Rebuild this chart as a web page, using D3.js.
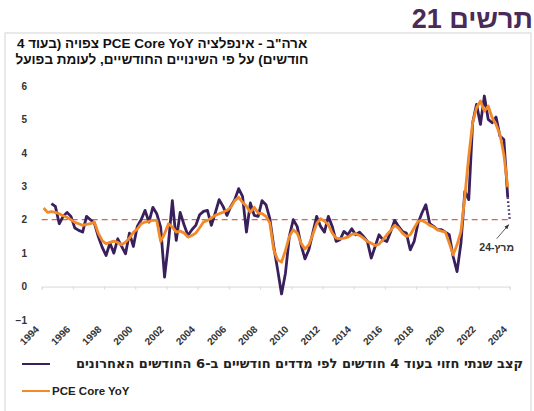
<!DOCTYPE html>
<html>
<head>
<meta charset="utf-8">
<script src="https://cdn.jsdelivr.net/npm/d3@7"></script>
<style>
  body { margin: 0; background: #fff; }
  svg { display: block; font-family: "Liberation Sans", Arial, sans-serif; }
  .ylab text { font-size: 10px; font-weight: bold; fill: #333; font-family: "Liberation Sans", Arial, sans-serif; }
  .xlab { font-size: 10px; font-weight: bold; fill: #333; }
</style>
</head>
<body>
<div id="chart"></div>
<script>
// Years of the chart, quarterly values (4 per year, mid-quarter)
var years = [1994, 1995, 1996, 1997, 1998, 1999, 2000, 2001, 2002, 2003,
  2004, 2005, 2006, 2007, 2008, 2009, 2010, 2011, 2012, 2013,
  2014, 2015, 2016, 2017, 2018, 2019, 2020, 2021, 2022, 2023];

// PCE Core YoY (actual)
var pceCore = [
  2.35, 2.22, 2.24, 2.22,   // 1994
  2.18, 2.12, 2.07, 2.00,   // 1995
  1.92, 1.88, 1.83, 1.86,   // 1996
  1.88, 1.93, 1.60, 1.38,   // 1997
  1.28, 1.32, 1.36, 1.32,   // 1998
  1.25, 1.33, 1.45, 1.62,   // 1999
  1.72, 1.88, 1.93, 1.95,   // 2000
  1.98, 1.98, 1.35, 1.58,   // 2001
  1.88, 1.78, 1.63, 1.66,   // 2002
  1.60, 1.48, 1.53, 1.60,   // 2003
  1.76, 1.93, 1.98, 2.05,   // 2004
  2.13, 2.18, 2.22, 2.28,   // 2005
  2.37, 2.57, 2.67, 2.52,   // 2006
  2.40, 2.22, 2.37, 2.20,   // 2007
  2.18, 2.10, 1.90, 1.10,   // 2008
  0.80, 0.73, 1.08, 1.50,   // 2009
  1.70, 1.60, 1.30, 1.12,   // 2010
  1.25, 1.55, 1.88, 2.03,   // 2011
  1.96, 1.85, 1.60, 1.45,   // 2012
  1.43, 1.45, 1.48, 1.56,   // 2013
  1.58, 1.53, 1.45, 1.35,   // 2014
  1.30, 1.23, 1.27, 1.40,   // 2015
  1.55, 1.68, 1.83, 1.75,   // 2016
  1.60, 1.50, 1.55, 1.75,   // 2017
  1.95, 1.98, 1.92, 1.83,   // 2018
  1.78, 1.70, 1.66, 1.63,   // 2019
  1.30, 0.95, 1.25, 1.65,   // 2020
  2.70, 3.90, 4.90, 5.35,   // 2021
  5.55, 5.25, 5.40, 5.05,   // 2022
  4.85, 4.55, 3.95, 2.97    // 2023
];

// annualised 4-months-ahead forecast from the last 6 monthly readings
var forecast = [
  null, null, 2.48, 2.40,   // 1994
  1.88, 2.10, 2.22, 2.10,   // 1995
  1.75, 1.68, 1.63, 2.10,   // 1996
  2.00, 1.90, 1.50, 1.18,   // 1997
  0.93, 1.30, 1.00, 1.43,   // 1998
  1.20, 0.98, 1.60, 1.20,   // 1999
  1.80, 2.00, 2.28, 1.93,   // 2000
  2.37, 2.18, 1.78, 0.28,   // 2001
  1.30, 2.57, 1.38, 2.22,   // 2002
  1.85, 1.53, 1.70, 1.83,   // 2003
  2.15, 2.25, 2.28, 1.83,   // 2004
  2.20, 2.60, 2.40, 2.13,   // 2005
  2.40, 2.60, 2.93, 2.70,   // 2006
  1.63, 2.50, 2.13, 2.10,   // 2007
  2.57, 2.45, 2.03, 1.20,   // 2008
  0.50, -0.22, 0.40, 1.50,  // 2009
  2.00, 1.80, 1.25, 0.83,   // 2010
  1.10, 1.60, 2.10, 1.80,   // 2011
  1.63, 2.10, 1.80, 1.35,   // 2012
  1.40, 1.65, 1.55, 1.73,   // 2013
  1.55, 1.63, 1.50, 1.35,   // 2014
  0.85, 1.20, 1.55, 1.40,   // 2015
  1.35, 1.65, 1.98, 1.80,   // 2016
  1.65, 1.60, 1.10, 1.35,   // 2017
  1.90, 2.20, 2.45, 1.88,   // 2018
  1.80, 1.70, 1.70, 1.63,   // 2019
  1.55, 0.90, 0.45, 1.30,   // 2020
  2.85, 2.60, 4.90, 5.45,   // 2021
  4.85, 5.70, 5.00, 4.90,   // 2022
  5.07, 4.50, 4.40, 2.67    // 2023
];

// projected point for March 2024 (dotted)
var projDate = 2024.0;
var projValue = 2.0;

var target = 2;
var tickYears = [1994, 1996, 1998, 2000, 2002, 2004, 2006, 2008, 2010, 2012, 2014, 2016, 2018, 2020, 2022, 2024];
var yTicks = [-1, 0, 1, 2, 3, 4, 5, 6];

var legendLabels = ["קצב שנתי חזוי בעוד 4 חודשים לפי מדדים חודשיים ב-6 החודשים האחרונים", "PCE Core YoY"];

var width = 534, height = 411;
var purple = "#3a1f5d", orange = "#f28a2a";

// date of quarterly entry i
function dateOf(i) { return years[Math.floor(i / 4)] + (i % 4) / 4 + 0.125; }

var svg = d3.select("#chart").append("svg")
  .attr("width", width)
  .attr("height", height);

// frame
svg.append("rect")
  .attr("x", 5).attr("y", 33)
  .attr("width", 526).attr("height", 390)
  .attr("fill", "none")
  .attr("stroke", "#d4d4d4");

// heading
svg.append("text")
  .attr("x", 533).attr("y", 28)
  .attr("direction", "rtl")
  .attr("text-anchor", "start")
  .style("font-size", "27px")
  .style("font-weight", "bold")
  .style("fill", "#4a2a57")
  .text("תרשים 21");

var titleLines = ["ארה\"ב - אינפלציה PCE Core YoY צפויה (בעוד 4", "חודשים) על פי השינויים החודשיים, לעומת בפועל"];
svg.append("g").selectAll("text")
  .data(titleLines)
  .enter().append("text")
  .attr("x", 162)
  .attr("y", function (d, i) { return 48 + i * 16; })
  .attr("direction", "rtl")
  .attr("text-anchor", "middle")
  .style("font-size", "13.5px")
  .style("font-weight", "bold")
  .style("fill", "#111")
  .text(function (d) { return d; });

// scales
var x = d3.scaleLinear().domain([1994, 2024]).range([41.7, 509.7]);
var y = d3.scaleLinear().domain([-1, 6]).range([320, 86]);

// y axis labels
svg.append("g")
  .attr("class", "ylab")
  .attr("transform", "translate(29,0)")
  .call(d3.axisLeft(y).tickValues(yTicks).tickSize(0).tickPadding(2).tickFormat(d3.format("d")))
  .call(function (g) { g.select(".domain").remove(); });

// zero line with ticks
svg.append("g")
  .attr("transform", "translate(0," + y(0) + ")")
  .call(d3.axisBottom(x).tickValues(tickYears).tickSize(3).tickFormat(""))
  .call(function (g) {
    g.select(".domain").attr("stroke", "#d9d9d9");
    g.selectAll(".tick line").attr("stroke", "#d9d9d9");
  });

// x labels, low position, rotated
svg.append("g").selectAll("text")
  .data(tickYears)
  .enter().append("text")
  .attr("class", "xlab")
  .attr("text-anchor", "end")
  .attr("transform", function (d) { return "translate(" + (x(d) - 2) + ",330) rotate(-45)"; })
  .text(function (d) { return d; });

// 2% target
svg.append("line")
  .attr("x1", x(1994)).attr("x2", x(2024))
  .attr("y1", y(target)).attr("y2", y(target))
  .attr("stroke", "#e4604f")
  .attr("stroke-width", 1.2)
  .attr("stroke-dasharray", "6,4");

var line = d3.line()
  .defined(function (d) { return d.v != null; })
  .x(function (d) { return x(d.t); })
  .y(function (d) { return y(d.v); });

var fData = forecast.map(function (v, i) { return { t: dateOf(i), v: v }; });
var aData = pceCore.map(function (v, i) { return { t: dateOf(i), v: v }; });

svg.append("path")
  .datum(fData)
  .attr("d", line)
  .attr("fill", "none")
  .attr("stroke", purple)
  .attr("stroke-width", 2.8)
  .attr("stroke-linejoin", "round");

svg.append("path")
  .datum(aData)
  .attr("d", line)
  .attr("fill", "none")
  .attr("stroke", orange)
  .attr("stroke-width", 2.8)
  .attr("stroke-linejoin", "round");

// dotted projection to March 2024
var last = fData[fData.length - 1];
svg.append("path")
  .datum([last, { t: projDate, v: projValue }])
  .attr("d", line)
  .attr("fill", "none")
  .attr("stroke", purple)
  .attr("stroke-width", 2.4)
  .attr("stroke-dasharray", "1.5,2.5");

// annotation
svg.append("defs").append("marker")
  .attr("id", "arr")
  .attr("viewBox", "0 0 10 10")
  .attr("refX", 9).attr("refY", 5)
  .attr("markerWidth", 6).attr("markerHeight", 6)
  .attr("orient", "auto")
  .append("path")
  .attr("d", "M0,1 L10,5 L0,9 z")
  .attr("fill", "#333");

svg.append("line")
  .attr("x1", x(projDate) - 13).attr("y1", y(projValue) + 19)
  .attr("x2", x(projDate) - 1).attr("y2", y(projValue) + 5)
  .attr("stroke", "#333")
  .attr("stroke-width", 0.8)
  .attr("marker-end", "url(#arr)");

svg.append("text")
  .attr("x", x(projDate) - 13)
  .attr("y", y(projValue) + 31)
  .attr("direction", "rtl")
  .attr("text-anchor", "middle")
  .style("font-size", "10.5px")
  .style("font-weight", "bold")
  .style("fill", "#333")
  .text("מרץ-24");

// legend
var legend = svg.append("g").selectAll("g")
  .data(legendLabels)
  .enter().append("g")
  .attr("transform", function (d, i) { return "translate(22," + (364 + i * 27) + ")"; });

legend.append("line")
  .attr("x1", 0).attr("x2", 28)
  .attr("stroke", function (d, i) { return i == 0 ? purple : orange; })
  .attr("stroke-width", 2);

var legText = legend.append("text")
  .attr("x", function (d, i) { return i == 0 ? 501 : 30; })
  .attr("y", 4)
  .attr("direction", function (d, i) { return i == 0 ? "rtl" : "ltr"; })
  .attr("text-anchor", "start")
  .style("font-size", "11.5px")
  .style("font-weight", "bold")
  .style("fill", "#222")
  .text(function (d) { return d; });

// long hebrew label: wider face, fitted to the row up to the right edge
var first = legText.filter(function (d, i) { return i == 0; })
  .style("font-family", "'DejaVu Sans', sans-serif");
var w = first.node().getComputedTextLength();
first.style("font-size", Math.min(13, 11.5 * 470 / w).toFixed(2) + "px");
</script>
</body>
</html>
